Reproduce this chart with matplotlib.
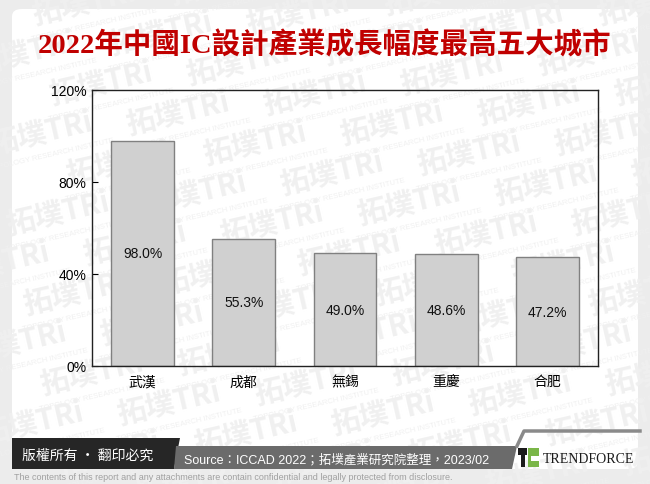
import matplotlib
matplotlib.use("Agg")
import matplotlib.pyplot as plt
from matplotlib.patches import FancyBboxPatch, Polygon, Rectangle
from matplotlib.lines import Line2D

categories = ["武漢", "成都", "無錫", "重慶", "合肥"]
values = [98.0, 55.3, 49.0, 48.6, 47.2]
yticks = [0, 40, 80, 120]
ytick_labels = ["0%", "40%", "80%", "120%"]
title = "2022年中國IC設計產業成長幅度最高五大城市"
source = "Source：ICCAD 2022；拓墣產業研究院整理，2023/02"
copyright_text = "版權所有 · 翻印必究"
disclaimer = "The contents of this report and any attachments are contain confidential and legally protected from disclosure."
watermark_main = "拓墣TRi"
watermark_sub = "TOPOLOGY RESEARCH INSTITUTE"

W, H = 650, 485
fig = plt.figure(figsize=(6.5, 4.85), dpi=100)
fig.patch.set_facecolor("#ececec")

def fx(x): return x / W
def fy(y): return 1 - y / H

# white panel
panel = FancyBboxPatch((fx(12), fy(470)), fx(638) - fx(12), fy(10) - fy(470),
                       boxstyle="round,pad=0,rounding_size=0.015",
                       transform=fig.transFigure, facecolor="white", edgecolor="none", zorder=-5)
fig.patches.append(panel)

# watermark lattice
for i in range(-6, 12):
    for j in range(-6, 14):
        px = 260 + 77 * i - 60 * j
        py = 93 + 30 * i + 50 * j
        if -60 < px < 680 and -20 < py < 500:
            fig.text(fx(px), fy(py), watermark_main, ha="left", va="center", rotation=13,
                     fontsize=21, color="#f0f0f0", fontweight="bold",
                     family=["Noto Sans CJK TC", "DejaVu Sans"], zorder=-4)
            fig.text(fx(px + 2), fy(py + 22), watermark_sub, ha="left", va="center", rotation=13,
                     fontsize=5.5, color="#f0f0f0", family=["Liberation Sans"], zorder=-4)

# title
fig.text(0.5, fy(45), title, ha="center", va="center", color="#c00000", fontsize=20.5,
         fontweight="bold", family=["Liberation Serif", "Noto Sans CJK TC"])

ax = fig.add_axes([fx(92), fy(367), fx(598) - fx(92), fy(91) - fy(367)], zorder=2)
ax.set_facecolor("none")
x = list(range(len(categories)))
ax.bar(x, values, width=0.62, color="#d0d0d0", edgecolor="#808080", linewidth=1.0, zorder=2)
for xi, v in zip(x, values):
    ax.text(xi, v / 2, f"{v:.1f}%", ha="center", va="center", fontsize=10,
            family=["Liberation Sans"], color="#111111", zorder=3)
ax.set_xlim(-0.5, len(categories) - 0.5)
ax.set_ylim(0, 120)
ax.set_yticks(yticks)
ax.set_yticklabels(ytick_labels, family=["Liberation Sans"], fontsize=10)
ax.set_xticks(x)
ax.set_xticklabels(categories, family=["Noto Sans CJK TC"], fontsize=10)
ax.tick_params(axis="x", length=0, pad=6)
ax.tick_params(axis="y", length=4, direction="in", pad=4)
for s in ax.spines.values():
    s.set_color("#222222")
    s.set_linewidth(1.0)

# footer
dark = Polygon([(fx(12), fy(439)), (fx(180), fy(439)), (fx(174), fy(470)), (fx(12), fy(470))],
               closed=True, transform=fig.transFigure, facecolor="#262626", edgecolor="none", zorder=1)
fig.patches.append(dark)
gray = Polygon([(fx(176), fy(447)), (fx(517), fy(447)), (fx(512), fy(470)), (fx(174), fy(470))],
               closed=True, transform=fig.transFigure, facecolor="#6b6b6b", edgecolor="none", zorder=1)
fig.patches.append(gray)
fig.lines.append(Line2D([fx(517), fx(524), fx(640)], [fy(447), fy(432), fy(432)],
                        transform=fig.transFigure, color="#8a8a8a", linewidth=2.5))
fig.text(fx(22), fy(456), copyright_text, ha="left", va="center", color="white", fontsize=10,
         fontweight="medium", family=["Noto Sans CJK TC", "DejaVu Sans"])
fig.text(fx(184), fy(460), source, ha="left", va="center", color="white", fontsize=9,
         family=["Liberation Sans", "Noto Sans CJK TC"])
# logo
fig.patches.append(Rectangle((fx(518), fy(456)), fx(9), fy(449) - fy(456),
                             transform=fig.transFigure, facecolor="#1a1a1a", edgecolor="none", zorder=2))
fig.patches.append(Rectangle((fx(521), fy(468)), fx(4), fy(456) - fy(468),
                             transform=fig.transFigure, facecolor="#1a1a1a", edgecolor="none", zorder=2))
fig.patches.append(Rectangle((fx(528), fy(468)), fx(11), fy(449) - fy(468),
                             transform=fig.transFigure, facecolor="#7ab648", edgecolor="none", zorder=2))
fig.patches.append(Rectangle((fx(531), fy(462)), fx(8), fy(457) - fy(462),
                             transform=fig.transFigure, facecolor="white", edgecolor="none", zorder=3))
fig.text(fx(543), fy(460), "TRENDFORCE", ha="left", va="center", color="#1a1a1a", fontsize=10,
         family=["Liberation Serif"])
fig.text(fx(14), fy(478), disclaimer, ha="left", va="center", color="#a0a0a0", fontsize=6.5,
         family=["Liberation Sans"])

fig.savefig("out.png", dpi=100, facecolor=fig.get_facecolor())
